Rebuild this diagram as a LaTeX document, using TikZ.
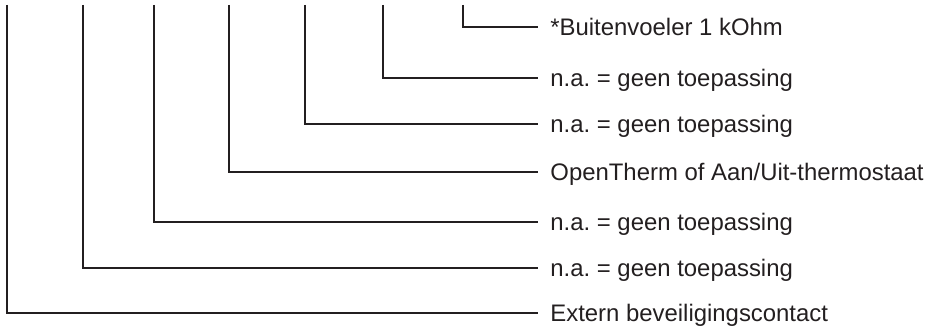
\documentclass[tikz,border=0pt]{standalone}
\usepackage{fontspec}
\setmainfont{Liberation Sans}
\usetikzlibrary{positioning}
\definecolor{wirecol}{HTML}{231F20}
\frenchspacing

\begin{document}
\begin{tikzpicture}[x=0.5pt, y=-0.5pt,
		wire/.style={draw=wirecol, line width=0.7pt},
		lbl/.style={anchor=west, text=wirecol, inner xsep=6pt, inner ysep=0pt,
			text height=8.5pt, text depth=0pt, font=\fontsize{11.95}{14}\selectfont}]
		\useasboundingbox (0,0) rectangle (937,326);
		% top ends of the terminals
		\coordinate (t1) at (463,5);
		\coordinate (t2) at (383,5);
		\coordinate (t3) at (305,5);
		\coordinate (t4) at (229,5);
		\coordinate (t5) at (154,5);
		\coordinate (t6) at (83,5);
		\coordinate (t7) at (7,5);
		% labels
		\node[lbl] (l1) at (538,27) {*Buitenvoeler 1 kOhm};
		\node[lbl] (l2) at (538,78) {n.a. = geen toepassing};
		\node[lbl] (l3) at (538,124) {n.a. = geen toepassing};
		\node[lbl] (l4) at (538,172) {OpenTherm of Aan/Uit-thermostaat};
		\node[lbl] (l5) at (538,222) {n.a. = geen toepassing};
		\node[lbl] (l6) at (538,268) {n.a. = geen toepassing};
		\node[lbl] (l7) at (538,313) {Extern beveiligingscontact};
		\foreach \i in {1,...,7}
			\draw[wire] (t\i) |- (l\i.west);
	\end{tikzpicture}
\end{document}
